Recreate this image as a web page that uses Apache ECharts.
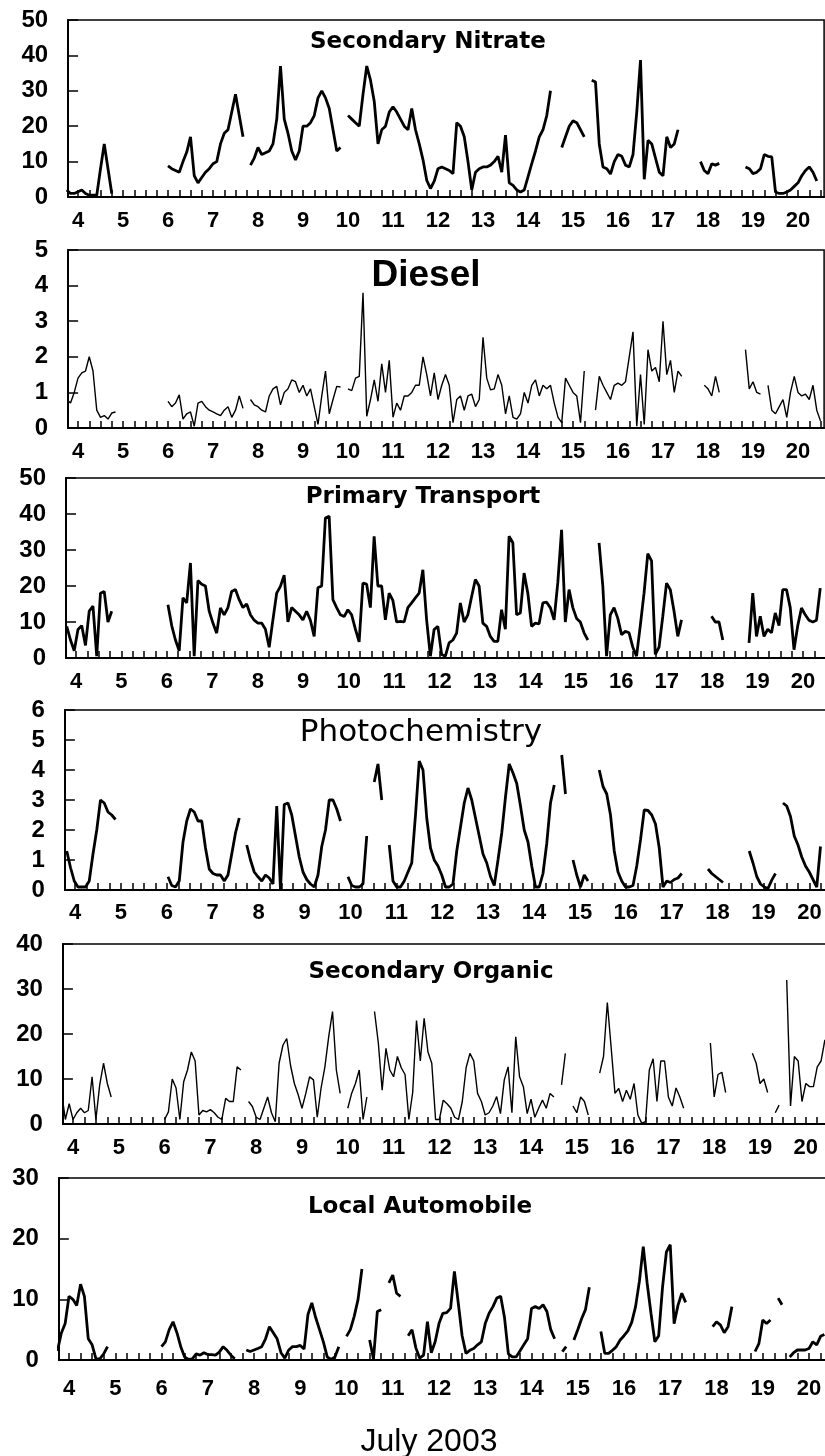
<!DOCTYPE html>
<html lang="en">

<head>
    <meta charset="UTF-8">
    <title>Source contributions, July 2003</title>
    <script src="https://cdn.jsdelivr.net/npm/echarts@6.0.0/dist/echarts.min.js"></script>
    <style>
        html, body { margin: 0; padding: 0; background: #fff; }
        #main { width: 825px; height: 1456px; }
    </style>
</head>

<body>
    <div id="main"></div>
    <script type="text/javascript">
    // day of July 2003 under each panel
    const days = [4, 5, 6, 7, 8, 9, 10, 11, 12, 13, 14, 15, 16, 17, 18, 19, 20];

    // values every 2 hours (first row: July 3 from 18:00, then one row per day)
    // null = no data
    const nitrate = [
        2, 1, 1,
        1.5, 2, 1, 0.5, 0.5, 0.5, 8, 15, 8, 1, null, null,
        null, null, null, null, null, null, null, null, null, null, null, null,
        8.8, 8, 7.5, 7, 10, 12.7, 17, 6, 4, 5.5, 7, 8,
        9.4, 10, 15, 18, 19, 24, 29, 23, 17, null, 9, 11,
        14, 12, 12.5, 13, 15, 22, 37, 22, 18, 13, 10.5, 13,
        20, 20, 21, 23, 28, 30, 28, 25, 19, 13, 14, null,
        23, 22, 21, 20, 29, 37, 33, 27, 15, 19, 20, 24,
        25.5, 24, 22, 20, 19, 25, 19, 15, 10.5, 4.7, 2.4, 4.5,
        8, 8.5, 8, 7.5, 6.6, 21, 20, 17, 10, 2, 7, 8,
        8.5, 8.5, 9, 10, 11.5, 7, 17.5, 4, 3.3, 2, 1.4, 2,
        5.7, 9.4, 13, 17, 19, 23, 30, null, null, 14, 17, 20,
        21.5, 21, 19, 17, null, 33, 32.5, 15, 8.5, 8, 6.5, 10,
        12, 11.5, 9, 8.5, 12, 24, 38.7, 5, 16, 15, 11, 7,
        6, 17, 14, 15, 19, null, null, null, null, null, 10, 7.5,
        6.6, 9.4, 9, 9.5, null, null, null, null, null, null, 8.5, 8,
        6.6, 7, 8, 12, 11.5, 11.3, 1.4, 1, 1, 1.4, 2, 3,
        4, 6, 7.5, 8.5, 7, 4.5, null
    ];

    const diesel = [
        0.8, 0.7, 1.0,
        1.4, 1.55, 1.6, 2.0, 1.6, 0.5, 0.3, 0.35, 0.25, 0.42, 0.45, null,
        null, null, null, null, null, null, null, null, null, null, null, null,
        0.75, 0.6, 0.7, 0.93, 0.25, 0.4, 0.45, 0.05, 0.7, 0.75, 0.6, 0.5,
        0.45, 0.4, 0.35, 0.5, 0.6, 0.3, 0.5, 0.9, 0.55, null, 0.8, 0.65,
        0.6, 0.5, 0.45, 0.9, 1.1, 1.17, 0.65, 1.0, 1.1, 1.35, 1.3, 1.0,
        1.2, 0.9, 1.1, 0.6, 0.1, 0.9, 1.6, 0.4, 0.8, 1.17, 1.15, null,
        1.1, 1.05, 1.4, 1.45, 3.8, 0.33, 0.8, 1.35, 0.75, 1.8, 1.0, 1.9,
        0.3, 0.7, 0.5, 0.9, 0.9, 1.0, 1.2, 1.2, 2.0, 1.5, 0.9, 1.55,
        0.8, 1.2, 1.5, 1.2, 0.15, 0.8, 0.9, 0.5, 0.9, 0.95, 0.6, 0.8,
        2.55, 1.4, 1.07, 1.1, 1.5, 1.2, 0.4, 0.9, 0.3, 0.25, 0.4, 1.0,
        0.7, 1.2, 1.35, 0.9, 1.2, 1.1, 1.2, 0.7, 0.3, 0.15, 1.4, 1.2,
        1.0, 0.9, 0.15, 1.6, null, null, 0.5, 1.45, 1.2, 1.0, 0.8, 1.2,
        1.26, 1.2, 1.3, 2.0, 2.7, 0.05, 1.5, 0.1, 2.2, 1.6, 1.7, 1.3,
        3.0, 1.5, 1.9, 1.0, 1.6, 1.45, null, null, null, null, null, 1.2,
        1.1, 0.9, 1.45, 1.0, null, null, null, null, null, null, 2.2, 1.1,
        1.3, 1.0, 0.95, null, 1.2, 0.5, 0.4, 0.6, 0.8, 0.3, 1.0, 1.45,
        1.0, 0.9, 0.95, 0.8, 1.2, 0.5, 0.2
    ];

    const transport = [
        8.8, 5, 2,
        7.9, 9, 3.5, 13, 14.4, 0.5, 18, 18.5, 10, 13, null, null,
        null, null, null, null, null, null, null, null, null, null, null, null,
        14.8, 9, 5, 2, 16.7, 15.3, 26.4, 0.5, 21.5, 20.5, 20, 13,
        9.7, 6.9, 13.9, 12, 14, 18.5, 19, 16.2, 14, 15, 12, 10.5,
        9.7, 9.7, 8, 3, 10.6, 18, 19.9, 23, 10, 14, 13, 12,
        10.6, 13, 10.5, 6, 19.5, 20, 38.9, 39.4, 16.2, 14, 12, 11.5,
        13.4, 12, 8, 4.5, 20.8, 20.5, 14, 33.8, 20, 20, 10.6, 18,
        16, 10, 10.2, 10, 14, 15.3, 16.7, 18, 24.5, 10.6, 0.5, 7.9,
        8.8, 1, 0.5, 4.2, 5, 6.9, 15.3, 10, 12, 17, 21.8, 20,
        9.7, 8.8, 6, 4.6, 4.6, 13.4, 8, 33.8, 32, 12, 12.5, 23.6,
        18, 8.8, 9.7, 9.5, 15.3, 15.5, 14, 10.6, 21, 35.6, 10, 19,
        14, 11, 10, 7, 5, null, null, 32, 20, 0.5, 12, 14,
        11, 6.5, 7.4, 7, 3, 0.5, 9, 18, 29, 27, 1, 3,
        11.6, 20.8, 19, 13, 6, 10.6, null, null, null, null, null, null,
        null, 11.6, 10, 10, 5, null, null, null, null, null, null, 4.2,
        18, 6, 11.6, 6, 8, 7, 12.5, 9, 19, 19, 14, 2.3,
        9, 13.9, 12, 10.5, 10, 10.5, 19.4
    ];

    const photochem = [
        1.3, 0.75, 0.3,
        0.1, 0.1, 0.1, 0.3, 1.2, 2.0, 3.0, 2.9, 2.6, 2.5, 2.35, null,
        null, null, null, null, null, null, null, null, null, null, null, null,
        0.44, 0.15, 0.1, 0.3, 1.6, 2.3, 2.7, 2.6, 2.3, 2.3, 1.4, 0.7,
        0.55, 0.5, 0.5, 0.3, 0.5, 1.2, 1.9, 2.4, null, 1.5, 1.0, 0.6,
        0.44, 0.3, 0.5, 0.4, 0.2, 2.8, 0.0, 2.85, 2.9, 2.5, 1.8, 1.1,
        0.6, 0.35, 0.2, 0.1, 0.5, 1.45, 2.0, 3.0, 3.0, 2.7, 2.3, null,
        0.44, 0.15, 0.1, 0.1, 0.2, 1.8, null, 3.6, 4.2, 3.0, null, 1.5,
        0.3, 0.1, 0.1, 0.3, 0.6, 0.9, 2.5, 4.3, 4.0, 2.4, 1.4, 1.0,
        0.8, 0.5, 0.1, 0.1, 0.2, 1.3, 2.1, 2.9, 3.4, 3.0, 2.4, 1.8,
        1.2, 0.9, 0.45, 0.15, 1.0, 1.9, 3.1, 4.2, 3.9, 3.55, 2.8, 2.0,
        1.6, 0.8, 0.1, 0.1, 0.55, 1.55, 2.9, 3.5, null, 4.5, 3.2, null,
        1.0, 0.5, 0.1, 0.5, 0.3, null, null, 4.0, 3.45, 3.2, 2.5, 1.3,
        0.6, 0.3, 0.1, 0.1, 0.15, 0.8, 1.67, 2.67, 2.65, 2.5, 2.2, 1.4,
        0.1, 0.3, 0.25, 0.35, 0.4, 0.55, null, null, null, null, null, null,
        0.7, 0.55, 0.45, 0.35, 0.25, null, null, null, null, null, null, 1.3,
        0.9, 0.45, 0.2, 0.1, 0.05, 0.33, 0.55, null, 2.9, 2.8, 2.45, 1.8,
        1.5, 1.1, 0.8, 0.6, 0.35, 0.1, 1.45
    ];

    const organic = [
        7, 1, 4.5,
        1, 2.5, 3.5, 2.5, 3, 10.5, 1, 8.7, 13.5, 9, 6, null,
        null, null, null, null, null, null, null, null, null, null, null, null,
        1.0, 2.7, 10, 8, 1, 9.4, 12, 16, 14, 2, 3, 2.7,
        3.2, 2.5, 1.5, 1, 5.7, 5, 5, 12.7, 12, null, 5, 3.9,
        1.5, 1, 3.5, 6, 2.5, 0.5, 13.5, 17.5, 19, 13, 9, 6.5,
        3.5, 6.8, 10.5, 9.8, 1.5, 8, 12.7, 19.4, 25, 12, 6.8, null,
        3.5, 6.8, 9, 12, 1, 6, null, 25, 18, 7.5, 16.8, 12,
        10.5, 15, 12.5, 11, 1, 7, 23, 14, 23.5, 16, 13.5, 1,
        1, 5.3, 4.5, 3.5, 1.5, 1, 5, 12.5, 15.7, 14, 6.8, 5,
        2, 2.5, 4, 6.1, 2.3, 9.8, 12.7, 2.5, 19.4, 10.5, 8.3, 2.3,
        5.5, 1.5, 3.5, 5.3, 3.5, 6.8, 6, null, 8.7, 15.7, null, 4,
        2.5, 6, 5, 2, null, null, 11.3, 15, 27, 17, 6.8, 7.9,
        5, 7.5, 5.5, 9, 2, 0.2, 0.5, 12, 14.5, 5, 14, 14,
        6, 4, 8, 6, 3.5, null, null, null, null, null, null, 18,
        6, 11, 11.5, 7, null, null, null, null, null, null, 15.7, 13.5,
        9, 10, 7, null, 2.5, 4.2, null, 32, 4, 15, 14, 5,
        9, 8.3, 8.3, 12.7, 14, 18.7, null
    ];

    const automobile = [
        1.5, 4.4, 6,
        10.5, 10, 9, 12.5, 10.5, 3.5, 2.5, 0.2, 0.2, 1, 2.2, null,
        null, null, null, null, null, null, null, null, null, null, null, null,
        2.2, 3, 5, 6.3, 4.5, 2.2, 0.5, 0.1, 0.2, 1, 0.8, 1.2,
        0.9, 0.9, 0.8, 1.3, 2.2, 1.6, 0.8, 0.2, null, null, 1.65, 1.4,
        1.65, 1.9, 2.2, 3.5, 5.5, 4.5, 3.5, 1.2, 0.3, 1.65, 2.2, 2.2,
        2.4, 1.8, 7.5, 9.4, 7, 5, 3, 0.5, 0.1, 0.5, 2.2, null,
        3.9, 5, 7.2, 10, 15, null, 3.3, 0.2, 8, 8.3, null, 12.7,
        14, 11, 10.5, null, 4, 5, 2, 0.3, 0.8, 6.3, 1.2, 3,
        6, 7.7, 7.8, 8.5, 14.6, 9.4, 4, 1.1, 1.6, 1.9, 2.5, 3,
        6, 7.7, 8.8, 10.2, 10.5, 7, 1, 0.5, 0.5, 1.5, 2.5, 3.5,
        8.5, 8.8, 8.5, 9.1, 8, 5, 3.5, null, 1.4, 2.2, null, 3.3,
        5, 6.8, 8.3, 12, null, null, 4.7, 1.1, 1.1, 1.6, 2.2, 3.3,
        4, 4.8, 6.2, 8.8, 13, 18.7, 12.7, 7.7, 3, 4, 12, 17.8,
        19, 6, 9, 11, 9.5, null, null, null, null, null, null, 5.5,
        6.3, 5.8, 4.5, 5.5, 8.8, null, null, null, null, null, 1.4, 2.7,
        6.6, 6, 6.6, null, 10.2, 9.1, null, 0.5, 1.2, 1.65, 1.65, 1.65,
        1.9, 3, 2.5, 3.9, 4.2, null, null
    ];

    let myChart = echarts.init(document.getElementById('main'));

    const xMin = 3.78, xMax = 20.58;

    // small ticks every 6 hours
    let quarterTicks = [];
    for (let d = 4; d <= 20.5; d += 0.25) quarterTicks.push(d);

    // each panel was pasted in with its own size, so each has its own day width
    const panels = [
        { title: 'Secondary Nitrate', values: nitrate, yMax: 50, yStep: 10,
          top: 20, height: 177, day4: 78, dayWidth: 45, t0: 3.75, dt: 1 / 12, lineWidth: 2.8, labelGap: 13,
          titleAt: [428, 42], titleFont: 'bold 23px "DejaVu Sans"' },
        { title: 'Diesel', values: diesel, yMax: 5, yStep: 1,
          top: 250, height: 178, day4: 78, dayWidth: 45, t0: 3.75, dt: 1 / 12, lineWidth: 1.4, labelGap: 13,
          titleAt: [426, 276], titleFont: 'bold 37px "Liberation Sans"' },
        { title: 'Primary Transport', values: transport, yMax: 50, yStep: 10,
          top: 478, height: 180, day4: 76, dayWidth: 45.44, t0: 3.796, dt: 0.0825, lineWidth: 2.8, labelGap: 13,
          titleAt: [423, 497], titleFont: 'bold 23px "DejaVu Sans"' },
        { title: 'Photochemistry', values: photochem, yMax: 6, yStep: 1,
          top: 710, height: 180, day4: 75, dayWidth: 45.9, t0: 3.82, dt: 0.0817, lineWidth: 2.8, labelGap: 12,
          titleAt: [421, 733], titleFont: '31px "DejaVu Sans"' },
        { title: 'Secondary Organic', values: organic, yMax: 40, yStep: 10,
          top: 944, height: 180, day4: 73, dayWidth: 45.8, t0: 3.75, dt: 1 / 12, lineWidth: 1.4, labelGap: 13,
          titleAt: [431, 972], titleFont: 'bold 23px "DejaVu Sans"' },
        { title: 'Local Automobile', values: automobile, yMax: 30, yStep: 10,
          top: 1178, height: 182, day4: 69, dayWidth: 46.25, t0: 3.75, dt: 1 / 12, lineWidth: 2.8, labelGap: 18,
          titleAt: [420, 1207], titleFont: 'bold 23px "DejaVu Sans"' }
    ];

    let option = {
        animation: false,
        backgroundColor: '#fff',
        grid: [],
        xAxis: [],
        yAxis: [],
        series: [],
        graphic: []
    };

    panels.forEach(function(p, i) {
        option.grid.push({
            left: p.day4 - (4 - xMin) * p.dayWidth,
            top: p.top,
            width: (xMax - xMin) * p.dayWidth,
            height: p.height,
            show: true,
            borderColor: '#000',
            borderWidth: 1.5,
            containLabel: false,
            outerBoundsMode: 'none'
        });

        option.xAxis.push({
            type: 'value',
            gridIndex: i,
            min: xMin,
            max: xMax,
            axisLine: { lineStyle: { color: '#000', width: 2 } },
            axisTick: {
                customValues: quarterTicks,
                inside: true,
                length: 7,
                lineStyle: { color: '#000', width: 1.5 }
            },
            axisLabel: {
                customValues: days,
                margin: p.labelGap,
                color: '#000',
                fontFamily: 'Liberation Sans',
                fontWeight: 'bold',
                fontSize: 22
            },
            splitLine: { show: false }
        });

        option.yAxis.push({
            type: 'value',
            gridIndex: i,
            min: 0,
            max: p.yMax,
            interval: p.yStep,
            axisLine: { show: true, lineStyle: { color: '#000', width: 2 } },
            axisTick: { show: true, inside: true, length: 10, lineStyle: { color: '#000', width: 1.5 } },
            axisLabel: {
                margin: 20,
                color: '#000',
                fontFamily: 'Liberation Sans',
                fontWeight: 'bold',
                fontSize: 24
            },
            splitLine: { show: false }
        });

        option.series.push({
            name: p.title,
            type: 'line',
            xAxisIndex: i,
            yAxisIndex: i,
            data: p.values.map(function(v, k) { return [p.t0 + k * p.dt, v]; }),
            symbol: 'none',
            showSymbol: false,
            connectNulls: false,
            silent: true,
            lineStyle: { color: '#000', width: p.lineWidth },
            itemStyle: { color: '#000' }
        });

        option.graphic.push({
            type: 'text',
            x: p.titleAt[0],
            y: p.titleAt[1],
            style: {
                text: p.title,
                font: p.titleFont,
                fill: '#000',
                textAlign: 'center',
                textVerticalAlign: 'middle',
                align: 'center',
                verticalAlign: 'middle'
            }
        });
    });

    option.graphic.push({
        type: 'text',
        x: 429,
        y: 1442,
        style: {
            text: 'July 2003',
            font: '32px "Liberation Sans"',
            fill: '#000',
            textAlign: 'center',
            textVerticalAlign: 'middle',
            align: 'center',
            verticalAlign: 'middle'
        }
    });

    myChart.setOption(option);
    </script>
</body>

</html>
